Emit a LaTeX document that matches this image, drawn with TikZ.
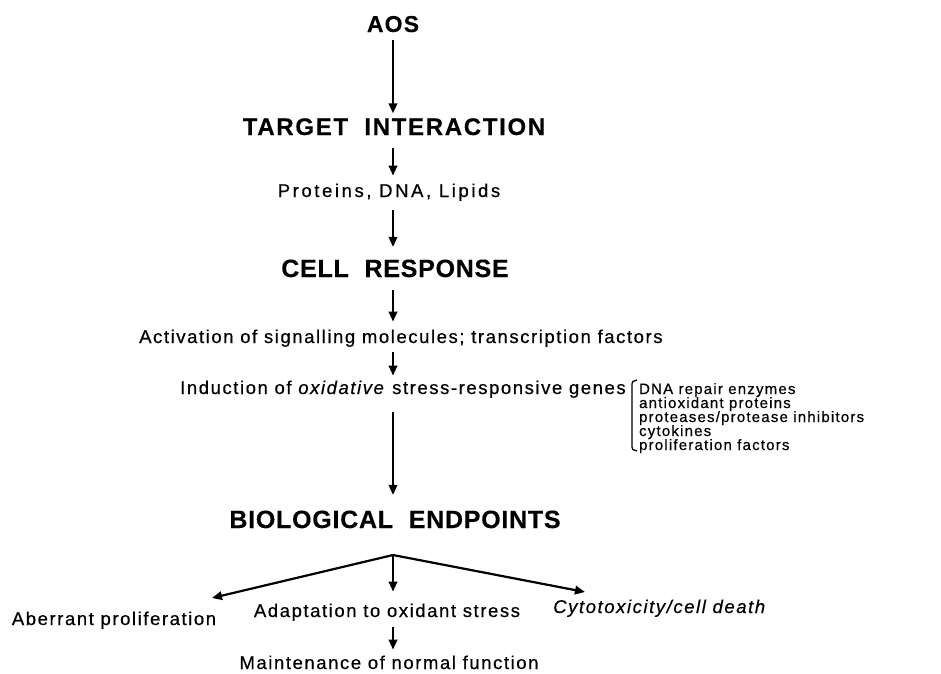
\documentclass[tikz,border=0pt]{standalone}
\usepackage{fontspec}
\setmainfont{Liberation Sans}
\newfontfamily\hfont[LetterSpace=5,FakeBold=0.3]{Liberation Sans}
\newfontfamily\cfont[LetterSpace=3,FakeBold=0.3]{Liberation Sans}
\newfontfamily\tfont[LetterSpace=7,FakeBold=0.3]{Liberation Sans}
\newfontfamily\bfont[LetterSpace=8.5,FakeBold=0.5]{Liberation Sans}
\newfontfamily\pfont[LetterSpace=14,FakeBold=0.5]{Liberation Sans}
\newfontfamily\lfont[LetterSpace=8,FakeBold=0.5]{Liberation Sans}
\usetikzlibrary{arrows.meta}
\begin{document}
\begin{tikzpicture}[x=1pt,y=-1pt,
  arr/.style={line width=2.2pt,-{Triangle[length=10pt,width=8.5pt]}},
  head/.style={inner sep=0pt,anchor=base,text depth=0pt,text height=16.5pt,
    font={\hfont\bfseries\fontsize{23}{27}\selectfont}},
  bighead/.style={head,text height=17.9pt,
    font={\cfont\bfseries\fontsize{25}{29}\selectfont}},
  body/.style={inner sep=0pt,anchor=base,text depth=0pt,text height=13.2pt,
    font={\bfont\fontsize{18.5}{22}\selectfont}},
  listtext/.style={inner sep=0pt,anchor=base west,text depth=0pt,text height=10.8pt,
    font={\lfont\fontsize{15}{14}\selectfont}},
  brk/.style={line width=1.3pt}]
\useasboundingbox (0,0) rectangle (941,673);
\coordinate (axis) at (393,0);
% main column
\node[head] (aos) at (393,32) {AOS};
\node[head,font={\tfont\bfseries\fontsize{24}{28}\selectfont}] (target) at (394,135) {TARGET\hspace{8pt} INTERACTION};
\node[body,font={\pfont\fontsize{18.5}{22}\selectfont}] (prot) at (389,197) {Proteins, DNA, Lipids};
\node[bighead] (cell) at (395,277) {CELL\hspace{8pt} RESPONSE};
\node[body,anchor=base west] (act) at (139,343) {Activation of signalling molecules; transcription factors};
\node[body,anchor=base west] (ind) at (180,394) {Induction of \textit{oxidative} stress-responsive genes};
\node[bighead] (bio) at (395,528) {BIOLOGICAL\hspace{8pt} ENDPOINTS};
% bracket and list
\coordinate (bk) at ([xshift=6pt]ind.base east);
\draw[brk] ([xshift=5pt,yshift=14pt]bk) -- ([xshift=1pt,yshift=12.5pt]bk)
  -- ([yshift=10pt]bk) -- ([yshift=-53pt]bk) -- ([xshift=1pt,yshift=-55.5pt]bk)
  -- ([xshift=5pt,yshift=-57pt]bk);
\node[listtext] (l1) at ([xshift=7pt]bk) {DNA repair enzymes};
\node[listtext] (l2) at ([yshift=-14pt]l1.base west) {antioxidant proteins};
\node[listtext] (l3) at ([yshift=-14pt]l2.base west) {proteases/protease inhibitors};
\node[listtext] (l4) at ([yshift=-14pt]l3.base west) {cytokines};
\node[listtext] (l5) at ([yshift=-14pt]l4.base west) {proliferation factors};
% endpoints
\coordinate (apex) at (393,555);
\coordinate (ltip) at (212,598);
\coordinate (rtip) at (585,592);
\node[body] (aber) at (114,625) {Aberrant proliferation};
\node[body] (adapt) at (387,617) {Adaptation to oxidant stress};
\node[body] (cyto) at (660,613) {\textit{Cytotoxicity/cell death}};
\node[body] (maint) at (389,669) {Maintenance of normal function};
% arrows
\draw[arr,shorten <=8pt,shorten >=5pt] (axis |- aos.south) -- (axis |- target.north);
\draw[arr,shorten <=13pt,shorten >=8pt] (axis |- target.south) -- (axis |- prot.north);
\draw[arr,shorten <=13pt,shorten >=12pt] (axis |- prot.south) -- (axis |- cell.north);
\draw[arr,shorten <=13pt,shorten >=8pt] (axis |- cell.south) -- (axis |- act.north);
\draw[arr,shorten <=9pt,shorten >=5pt] (axis |- act.south) -- (axis |- ind.north);
\draw[arr,shorten <=18pt,shorten >=15pt] (axis |- ind.south) -- (axis |- bio.north);
\draw[arr] (apex) -- (ltip);
\draw[arr,shorten >=12pt] (apex) -- (axis |- adapt.north);
\draw[arr] (apex) -- (rtip);
\draw[arr,shorten <=10pt,shorten >=6pt] (axis |- adapt.south) -- (axis |- maint.north);
\end{tikzpicture}
\end{document}
